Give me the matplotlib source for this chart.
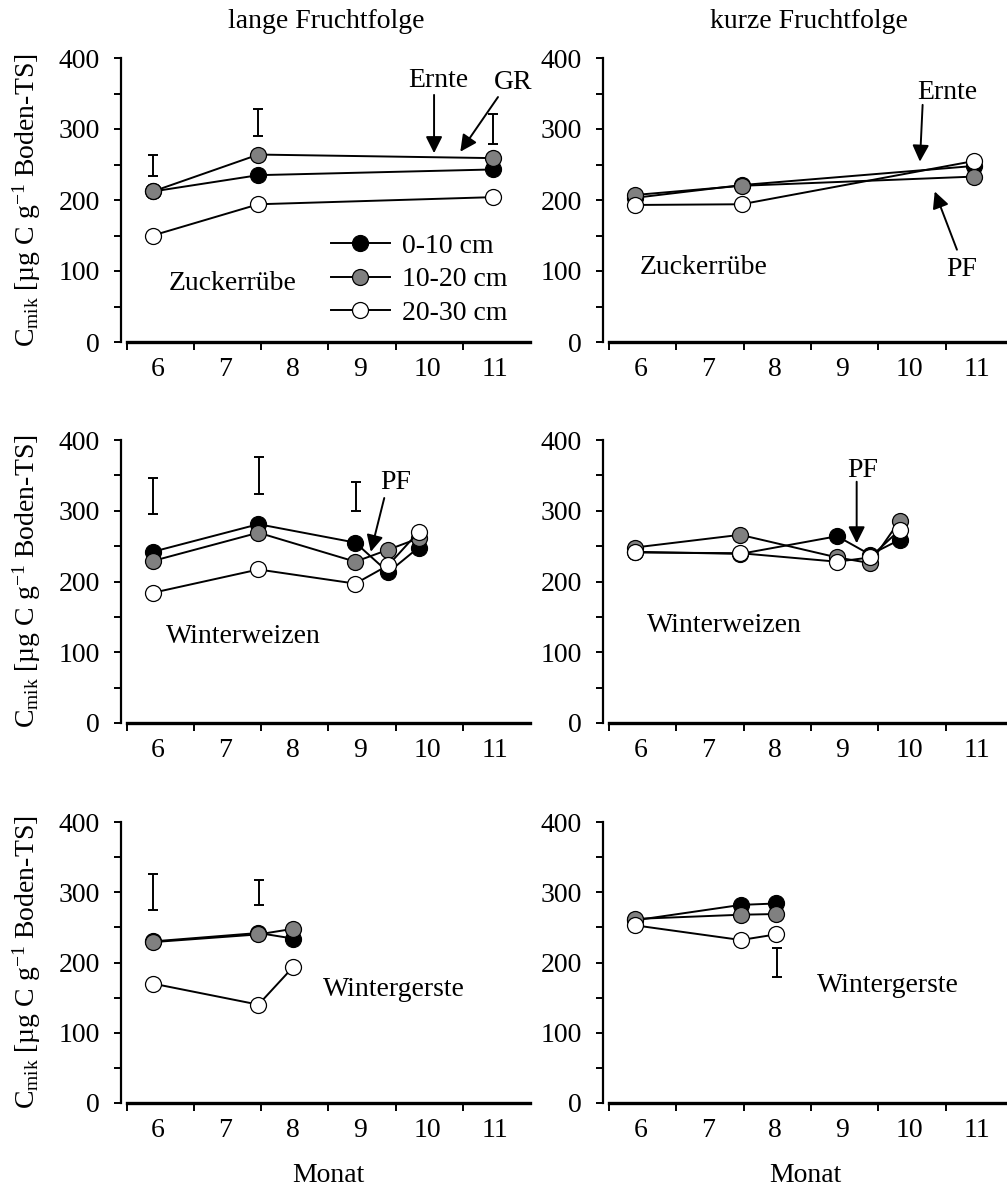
import matplotlib
matplotlib.use("Agg")
import matplotlib.pyplot as plt
from matplotlib.ticker import FixedLocator, MultipleLocator, NullFormatter, FixedFormatter

plt.rcParams["font.family"] = ["Liberation Serif", "DejaVu Serif"]
plt.rcParams["font.size"] = 20
plt.rcParams["mathtext.fontset"] = "custom"
plt.rcParams["mathtext.rm"] = "Liberation Serif"
plt.rcParams["mathtext.it"] = "Liberation Serif:italic"

depths = ["0-10 cm", "10-20 cm", "20-30 cm"]
month_ticks = [6, 7, 8, 9, 10, 11, 12]
month_labels = ["6", "7", "8", "9", "10", "11"]

# Zuckerruebe, lange Fruchtfolge
zr_lang_x = [6.39, 7.96, 11.44]
zr_lang_0_10 = [212, 235, 243]
zr_lang_10_20 = [212, 264, 259]
zr_lang_20_30 = [150, 194, 204]
zr_lang_gd_x = [6.39, 7.96, 11.44]
zr_lang_gd_lo = [234, 290, 279]
zr_lang_gd_hi = [264, 328, 321]

# Zuckerruebe, kurze Fruchtfolge
zr_kurz_x = [6.38, 7.97, 11.43]
zr_kurz_0_10 = [203, 221, 248]
zr_kurz_10_20 = [207, 220, 233]
zr_kurz_20_30 = [193, 194, 255]

# Winterweizen, lange Fruchtfolge
ww_lang_x = [6.39, 7.96, 9.40, 9.89, 10.34]
ww_lang_0_10 = [242, 281, 255, 213, 248]
ww_lang_10_20 = [229, 269, 228, 245, 261]
ww_lang_20_30 = [184, 217, 197, 223, 270]
ww_lang_gd_x = [6.39, 7.97, 9.41]
ww_lang_gd_lo = [295, 323, 300]
ww_lang_gd_hi = [346, 376, 340]

# Winterweizen, kurze Fruchtfolge
ww_kurz_x = [6.38, 7.95, 9.39, 9.88, 10.32]
ww_kurz_0_10 = [242, 239, 264, 238, 259]
ww_kurz_10_20 = [248, 266, 234, 226, 286]
ww_kurz_20_30 = [241, 240, 228, 234, 273]

# Wintergerste, lange Fruchtfolge
wg_lang_x = [6.39, 7.96, 8.48]
wg_lang_0_10 = [230, 242, 234]
wg_lang_10_20 = [229, 240, 248]
wg_lang_20_30 = [170, 140, 194]
wg_lang_gd_x = [6.39, 7.97]
wg_lang_gd_lo = [275, 282]
wg_lang_gd_hi = [326, 318]

# Wintergerste, kurze Fruchtfolge
wg_kurz_x = [6.38, 7.96, 8.48]
wg_kurz_0_10 = [260, 282, 284]
wg_kurz_10_20 = [262, 268, 269]
wg_kurz_20_30 = [253, 232, 240]
wg_kurz_gd_x = [8.49]
wg_kurz_gd_lo = [179]
wg_kurz_gd_hi = [220]

W, H = 1007, 1198
PX_MONTH = 67.3
faces = ["black", "#808080", "white"]

fig = plt.figure(figsize=(W / 100, H / 100), dpi=100)


def make_axes(left, right, top, bottom, x_start):
    ax = fig.add_axes([left / W, 1 - bottom / H, (right - left) / W, (bottom - top) / H])
    ax.set_xlim(6 - (x_start - left) / PX_MONTH, 6 + (right - x_start) / PX_MONTH)
    ax.set_ylim(0, 400)
    ax.patch.set_visible(False)
    for side in ["top", "right"]:
        ax.spines[side].set_visible(False)
    ax.spines["left"].set_linewidth(1.6)
    ax.spines["bottom"].set_linewidth(2.4)
    ax.spines["bottom"].set_bounds(6, 12)
    ax.yaxis.set_major_locator(MultipleLocator(100))
    ax.yaxis.set_minor_locator(MultipleLocator(50))
    ax.tick_params(axis="y", which="both", direction="out", length=5, width=1.4, pad=10)
    ax.xaxis.set_major_locator(FixedLocator(month_ticks))
    ax.xaxis.set_major_formatter(NullFormatter())
    ax.xaxis.set_minor_locator(FixedLocator([m + 0.47 for m in month_ticks[:-1]]))
    ax.xaxis.set_minor_formatter(FixedFormatter(month_labels))
    ax.tick_params(axis="x", which="major", direction="out", length=6, width=1.4)
    ax.tick_params(axis="x", which="minor", length=0, pad=11)
    return ax


def draw_series(ax, x, series):
    for i, (vals, fc) in enumerate(zip(series, faces)):
        ax.plot(x, vals, color="black", lw=1.4, marker="o", ms=11.5,
                mfc=fc, mec="black", mew=0.9, label=depths[i], zorder=3 + i,
                clip_on=False)


def draw_gd(ax, x, lo, hi):
    mid = [(a + b) / 2 for a, b in zip(lo, hi)]
    half = [(b - a) / 2 for a, b in zip(lo, hi)]
    ax.errorbar(x, mid, yerr=half, fmt="none", ecolor="black", elinewidth=1.4,
                capsize=3.5, capthick=1.4)


def arrow(ax, start, tip):
    ax.annotate("", xy=tip, xytext=start,
                arrowprops=dict(arrowstyle="-|>,head_length=0.5,head_width=0.25",
                                color="black", lw=1.4, shrinkA=0, shrinkB=0,
                                mutation_scale=20),
                annotation_clip=False)


rows = [(58, 342), (440, 723), (822, 1103)]
left_col = (121, 530, 126.5)
right_col = (603, 1007, 609)

# top row
ax = make_axes(left_col[0], left_col[1], rows[0][0], rows[0][1], left_col[2])
draw_series(ax, zr_lang_x, [zr_lang_0_10, zr_lang_10_20, zr_lang_20_30])
draw_gd(ax, zr_lang_gd_x, zr_lang_gd_lo, zr_lang_gd_hi)
ax.text(6.62, 83, "Zuckerrübe", ha="left", va="center")
ax.text(10.63, 369, "Ernte", ha="center", va="center")
ax.text(11.74, 365, "GR", ha="center", va="center", clip_on=False)
arrow(ax, (10.57, 348), (10.57, 266))
arrow(ax, (11.52, 345), (10.96, 268))
ax.legend(loc="upper left", bbox_to_anchor=(0.48, 0.43), frameon=False,
          handlelength=2.1, handletextpad=0.45, labelspacing=0.28, borderpad=0)
top_left = ax

ax = make_axes(right_col[0], right_col[1], rows[0][0], rows[0][1], right_col[2])
draw_series(ax, zr_kurz_x, [zr_kurz_0_10, zr_kurz_10_20, zr_kurz_20_30])
ax.text(6.45, 105, "Zuckerrübe", ha="left", va="center")
ax.text(11.03, 352, "Ernte", ha="center", va="center")
ax.text(11.24, 102, "PF", ha="center", va="center")
arrow(ax, (10.66, 334), (10.62, 254))
arrow(ax, (11.17, 130), (10.84, 212))

# middle row
ax = make_axes(left_col[0], left_col[1], rows[1][0], rows[1][1], left_col[2])
draw_series(ax, ww_lang_x, [ww_lang_0_10, ww_lang_10_20, ww_lang_20_30])
draw_gd(ax, ww_lang_gd_x, ww_lang_gd_lo, ww_lang_gd_hi)
ax.text(6.59, 122, "Winterweizen", ha="left", va="center")
ax.text(10.0, 340, "PF", ha="center", va="center")
arrow(ax, (9.83, 318), (9.63, 242))
mid_left = ax

ax = make_axes(right_col[0], right_col[1], rows[1][0], rows[1][1], right_col[2])
draw_series(ax, ww_kurz_x, [ww_kurz_0_10, ww_kurz_10_20, ww_kurz_20_30])
ax.text(6.56, 138, "Winterweizen", ha="left", va="center")
ax.text(9.77, 357, "PF", ha="center", va="center")
arrow(ax, (9.68, 341), (9.68, 254))

# bottom row
ax = make_axes(left_col[0], left_col[1], rows[2][0], rows[2][1], left_col[2])
draw_series(ax, wg_lang_x, [wg_lang_0_10, wg_lang_10_20, wg_lang_20_30])
draw_gd(ax, wg_lang_gd_x, wg_lang_gd_lo, wg_lang_gd_hi)
ax.text(8.92, 162, "Wintergerste", ha="left", va="center")
bot_left = ax

ax = make_axes(right_col[0], right_col[1], rows[2][0], rows[2][1], right_col[2])
draw_series(ax, wg_kurz_x, [wg_kurz_0_10, wg_kurz_10_20, wg_kurz_20_30])
draw_gd(ax, wg_kurz_gd_x, wg_kurz_gd_lo, wg_kurz_gd_hi)
ax.text(9.09, 167, "Wintergerste", ha="left", va="center")

for a in [top_left, mid_left, bot_left]:
    a.set_ylabel("C$_{\\mathrm{mik}}$ [µg C g$^{-1}$ Boden-TS]")
    a.yaxis.set_label_coords(-0.19, 0.5)

fig.text(326 / W, 1 - 22 / H, "lange Fruchtfolge", ha="center", va="center")
fig.text(809 / W, 1 - 22 / H, "kurze Fruchtfolge", ha="center", va="center")
fig.text(328 / W, 1 - 1175 / H, "Monat", ha="center", va="center")
fig.text(805 / W, 1 - 1175 / H, "Monat", ha="center", va="center")

fig.savefig("out.png", dpi=100)
